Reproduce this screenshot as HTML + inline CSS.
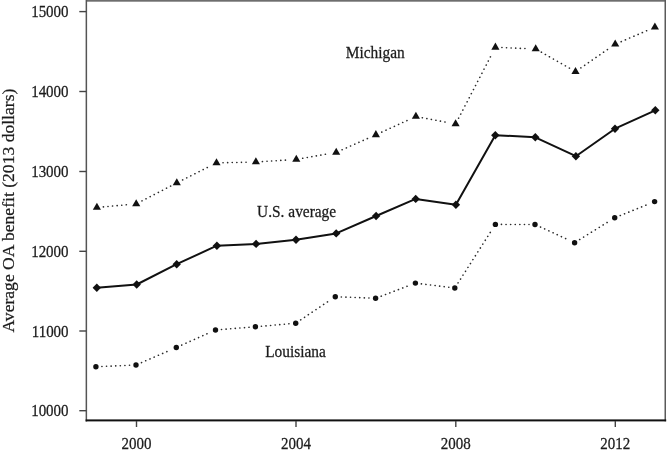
<!DOCTYPE html>
<html><head><meta charset="utf-8"><style>
html,body{margin:0;padding:0;background:#fff;}
body{width:667px;height:450px;overflow:hidden;}
svg{display:block;will-change:transform;}
text{font-family:"Liberation Serif",serif;fill:#1c1c1c;stroke:#1c1c1c;stroke-width:0.25px;}
.tk{font-size:15px;}
.lb{font-size:15.4px;}
.yl{font-size:17.6px;}
</style></head><body>
<svg width="667" height="450" viewBox="0 0 667 450">
<rect x="0" y="0" width="667" height="450" fill="#fff"/>
<rect x="86" y="0" width="580" height="1.7" fill="#6e6e6e"/>
<rect x="85.6" y="0" width="1.5" height="421.5" fill="#555"/>
<rect x="664.5" y="0" width="1.5" height="421.3" fill="#5a5a5a"/>
<rect x="85.6" y="419.4" width="580.6" height="2" fill="#111"/>
<rect x="79.3" y="10.9" width="7" height="1.4" fill="#444"/>
<text transform="translate(68.6,17.2) scale(1,1.05)" text-anchor="end" class="tk">15000</text>
<rect x="79.3" y="90.8" width="7" height="1.4" fill="#444"/>
<text transform="translate(68.6,97.1) scale(1,1.05)" text-anchor="end" class="tk">14000</text>
<rect x="79.3" y="170.8" width="7" height="1.4" fill="#444"/>
<text transform="translate(68.6,177.1) scale(1,1.05)" text-anchor="end" class="tk">13000</text>
<rect x="79.3" y="250.6" width="7" height="1.4" fill="#444"/>
<text transform="translate(68.6,256.9) scale(1,1.05)" text-anchor="end" class="tk">12000</text>
<rect x="79.3" y="330.3" width="7" height="1.4" fill="#444"/>
<text transform="translate(68.6,336.6) scale(1,1.05)" text-anchor="end" class="tk">11000</text>
<rect x="79.3" y="410.0" width="7" height="1.4" fill="#444"/>
<text transform="translate(68.6,416.3) scale(1,1.05)" text-anchor="end" class="tk">10000</text>
<rect x="135.8" y="421" width="1.4" height="6" fill="#444"/>
<text transform="translate(136.5,448.6) scale(1,1.06)" text-anchor="middle" class="tk">2000</text>
<rect x="295.3" y="421" width="1.4" height="6" fill="#444"/>
<text transform="translate(296.0,448.6) scale(1,1.06)" text-anchor="middle" class="tk">2004</text>
<rect x="455.1" y="421" width="1.4" height="6" fill="#444"/>
<text transform="translate(455.8,448.6) scale(1,1.06)" text-anchor="middle" class="tk">2008</text>
<rect x="614.6" y="421" width="1.4" height="6" fill="#444"/>
<text transform="translate(615.3,448.6) scale(1,1.06)" text-anchor="middle" class="tk">2012</text>
<path d="M103.37,206.91L129.73,204.49M141.97,200.91L171.03,185.89M182.60,179.98L210.70,165.82M223.00,162.75L249.40,162.15M262.39,161.58L289.81,159.82M302.70,158.28L329.80,153.52M342.14,149.77L369.96,137.43M381.81,132.10L409.99,119.20M422.29,117.71L449.21,122.79M458.59,118.23L492.41,53.07M501.89,47.57L529.21,48.73M541.35,52.21L569.85,68.39M580.85,67.91L609.85,47.89M621.18,41.64L648.92,29.76" fill="none" stroke="#2a2a2a" stroke-width="1.6" stroke-linecap="round" stroke-dasharray="0.1 4.5"/>
<path d="M101.89,366.53L130.01,365.27M141.50,362.61L170.80,349.89M181.78,345.05L210.02,332.45M221.48,329.52L249.42,327.28M261.38,326.27L289.72,323.73M300.69,319.86L330.31,300.04M341.30,296.94L369.60,298.06M381.21,296.16L409.79,285.24M421.35,283.84L448.85,287.26M458.03,282.94L492.17,229.46M501.40,224.42L529.00,224.48M540.45,227.01L569.15,240.19M579.70,239.53L609.60,220.97M620.26,215.54L649.04,203.86" fill="none" stroke="#2a2a2a" stroke-width="1.6" stroke-linecap="round" stroke-dasharray="0.1 4.5"/>
<polyline points="96.8,287.8 136.7,284.5 176.7,264.2 216.9,245.7 256.1,243.9 296.0,239.8 336.2,233.4 376.1,216.0 415.7,198.9 455.9,204.8 495.3,135.2 535.3,137.3 575.9,156.2 615.0,128.7 655.3,110.3" fill="none" stroke="#111" stroke-width="2.0" stroke-linejoin="round"/>
<g fill="#111"><path d="M96.90,202.80L100.97,209.85L92.83,209.85Z"/><path d="M136.20,199.20L140.27,206.25L132.13,206.25Z"/><path d="M176.80,178.20L180.87,185.25L172.73,185.25Z"/><path d="M216.50,158.20L220.57,165.25L212.43,165.25Z"/><path d="M255.90,157.30L259.97,164.35L251.83,164.35Z"/><path d="M296.30,154.70L300.37,161.75L292.23,161.75Z"/><path d="M336.20,147.70L340.27,154.75L332.13,154.75Z"/><path d="M375.90,130.10L379.97,137.15L371.83,137.15Z"/><path d="M415.90,111.80L419.97,118.85L411.83,118.85Z"/><path d="M455.60,119.30L459.67,126.35L451.53,126.35Z"/><path d="M495.40,42.60L499.47,49.65L491.33,49.65Z"/><path d="M535.70,44.30L539.77,51.35L531.63,51.35Z"/><path d="M575.50,66.90L579.57,73.95L571.43,73.95Z"/><path d="M615.20,39.50L619.27,46.55L611.13,46.55Z"/><path d="M654.90,22.50L658.97,29.55L650.83,29.55Z"/></g>
<g fill="#111"><path d="M96.80,283.60L101.00,287.80L96.80,292.00L92.60,287.80Z"/><path d="M136.70,280.30L140.90,284.50L136.70,288.70L132.50,284.50Z"/><path d="M176.70,260.00L180.90,264.20L176.70,268.40L172.50,264.20Z"/><path d="M216.90,241.50L221.10,245.70L216.90,249.90L212.70,245.70Z"/><path d="M256.10,239.70L260.30,243.90L256.10,248.10L251.90,243.90Z"/><path d="M296.00,235.60L300.20,239.80L296.00,244.00L291.80,239.80Z"/><path d="M336.20,229.20L340.40,233.40L336.20,237.60L332.00,233.40Z"/><path d="M376.10,211.80L380.30,216.00L376.10,220.20L371.90,216.00Z"/><path d="M415.70,194.70L419.90,198.90L415.70,203.10L411.50,198.90Z"/><path d="M455.90,200.60L460.10,204.80L455.90,209.00L451.70,204.80Z"/><path d="M495.30,131.00L499.50,135.20L495.30,139.40L491.10,135.20Z"/><path d="M535.30,133.10L539.50,137.30L535.30,141.50L531.10,137.30Z"/><path d="M575.90,152.00L580.10,156.20L575.90,160.40L571.70,156.20Z"/><path d="M615.00,124.50L619.20,128.70L615.00,132.90L610.80,128.70Z"/><path d="M655.30,106.10L659.50,110.30L655.30,114.50L651.10,110.30Z"/></g>
<g fill="#111"><circle cx="95.90" cy="366.80" r="2.7"/><circle cx="136.00" cy="365.00" r="2.7"/><circle cx="176.30" cy="347.50" r="2.7"/><circle cx="215.50" cy="330.00" r="2.7"/><circle cx="255.40" cy="326.80" r="2.7"/><circle cx="295.70" cy="323.20" r="2.7"/><circle cx="335.30" cy="296.70" r="2.7"/><circle cx="375.60" cy="298.30" r="2.7"/><circle cx="415.40" cy="283.10" r="2.7"/><circle cx="454.80" cy="288.00" r="2.7"/><circle cx="495.40" cy="224.40" r="2.7"/><circle cx="535.00" cy="224.50" r="2.7"/><circle cx="574.60" cy="242.70" r="2.7"/><circle cx="614.70" cy="217.80" r="2.7"/><circle cx="654.60" cy="201.60" r="2.7"/></g>
<text transform="translate(345.7,57.8) scale(1,1.08)" class="lb">Michigan</text>
<text transform="translate(257.1,217.1) scale(1,1.08)" class="lb">U.S. average</text>
<text transform="translate(265.2,357.0) scale(1,1.08)" class="lb">Louisiana</text>
<text transform="translate(13.6,210.6) rotate(-90)" text-anchor="middle" class="yl">Average OA benefit (2013 dollars)</text>
</svg>
</body></html>
